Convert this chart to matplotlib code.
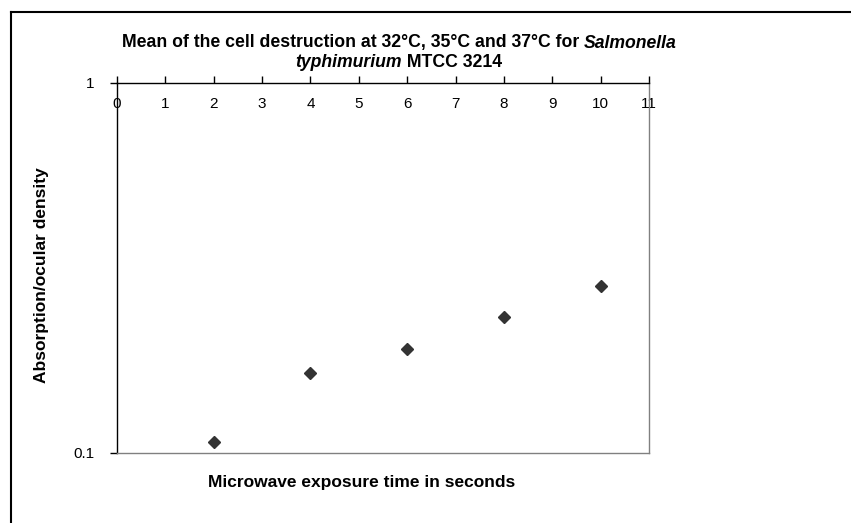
import numpy as np
import matplotlib.pyplot as plt
from matplotlib.lines import Line2D
from matplotlib.ticker import FixedLocator, NullLocator

plt.rcParams['font.family'] = ['Liberation Sans', 'DejaVu Sans']

# data
time_s = [2, 4, 6, 8, 10]
absorbance = [0.1073, 0.165, 0.1914, 0.2335, 0.2826]
x_ticks = list(range(0, 12))
y_ticks = [0.1, 1]
y_tick_labels = ['0.1', '1']

W, H = 851, 523
fig = plt.figure(figsize=(W / 100, H / 100), dpi=100)
ax = fig.add_axes([117 / W, 1 - 453 / H, 532 / W, 370 / H])

ax.plot(time_s, absorbance, linestyle='none', marker='D', markersize=6,
        color='#333333')

ax.set_yscale('log')
ax.set_ylim(0.1, 1)
ax.set_xlim(0, 11)
ax.yaxis.set_major_locator(FixedLocator(y_ticks))
ax.yaxis.set_minor_locator(NullLocator())
ax.set_yticklabels(y_tick_labels)
ax.set_xticks(x_ticks)

ax.tick_params(axis='x', top=True, bottom=False, labeltop=True,
               labelbottom=False, direction='out', length=5, width=1,
               pad=-25, labelsize=11)
ax.tick_params(axis='y', direction='out', length=5, width=1, pad=11,
               labelsize=11)

ax.spines['left'].set_color('black')
ax.spines['top'].set_color('black')
ax.spines['right'].set_color('#808080')
ax.spines['bottom'].set_color('#808080')
for s in ax.spines.values():
    s.set_linewidth(1)

renderer = fig.canvas.get_renderer()


def width_px(t):
    return t.get_window_extent(renderer).width


# title, two lines with italic species name; sized to span x=122..678
t_kw = dict(va='center', fontsize=10, fontweight='bold')
a = fig.text(0, 0, 'Mean of the cell destruction at 32°C, 35°C and 37°C for ', **t_kw)
b = fig.text(0, 0, 'Salmonella', fontstyle='italic', **t_kw)
c = fig.text(0, 0, 'typhimurium', fontstyle='italic', **t_kw)
d = fig.text(0, 0, ' MTCC 3214', **t_kw)
fs = 10 * 556 / (width_px(a) + width_px(b))
for t in (a, b, c, d):
    t.set_fontsize(fs)
wa, wc, wd = width_px(a), width_px(c), width_px(d)
y1, y2 = 1 - 43 / H, 1 - 62 / H
a.set_position((122 / W, y1))
b.set_position(((122 + wa) / W, y1))
x2 = 399 - (wc + wd) / 2
c.set_position((x2 / W, y2))
d.set_position(((x2 + wc) / W, y2))

xl = fig.text(362 / W, 1 - 483 / H, 'Microwave exposure time in seconds',
              ha='center', va='center', fontsize=10, fontweight='bold')
xl.set_fontsize(10 * 307 / width_px(xl))
yl = fig.text(42 / W, 1 - 275 / H, 'Absorption/ocular density',
              ha='center', va='center', rotation=90, fontsize=10,
              fontweight='bold')
yl.set_fontsize(10 * 216 / yl.get_window_extent(renderer).height)

# outer chart frame
fig.add_artist(Line2D([11 / W, 11 / W], [0, 1 - 12 / H],
                      color='black', linewidth=1.5))
fig.add_artist(Line2D([11 / W, 1], [1 - 12 / H, 1 - 12 / H],
                      color='black', linewidth=1.5))

fig.savefig('out.png', dpi=100)
